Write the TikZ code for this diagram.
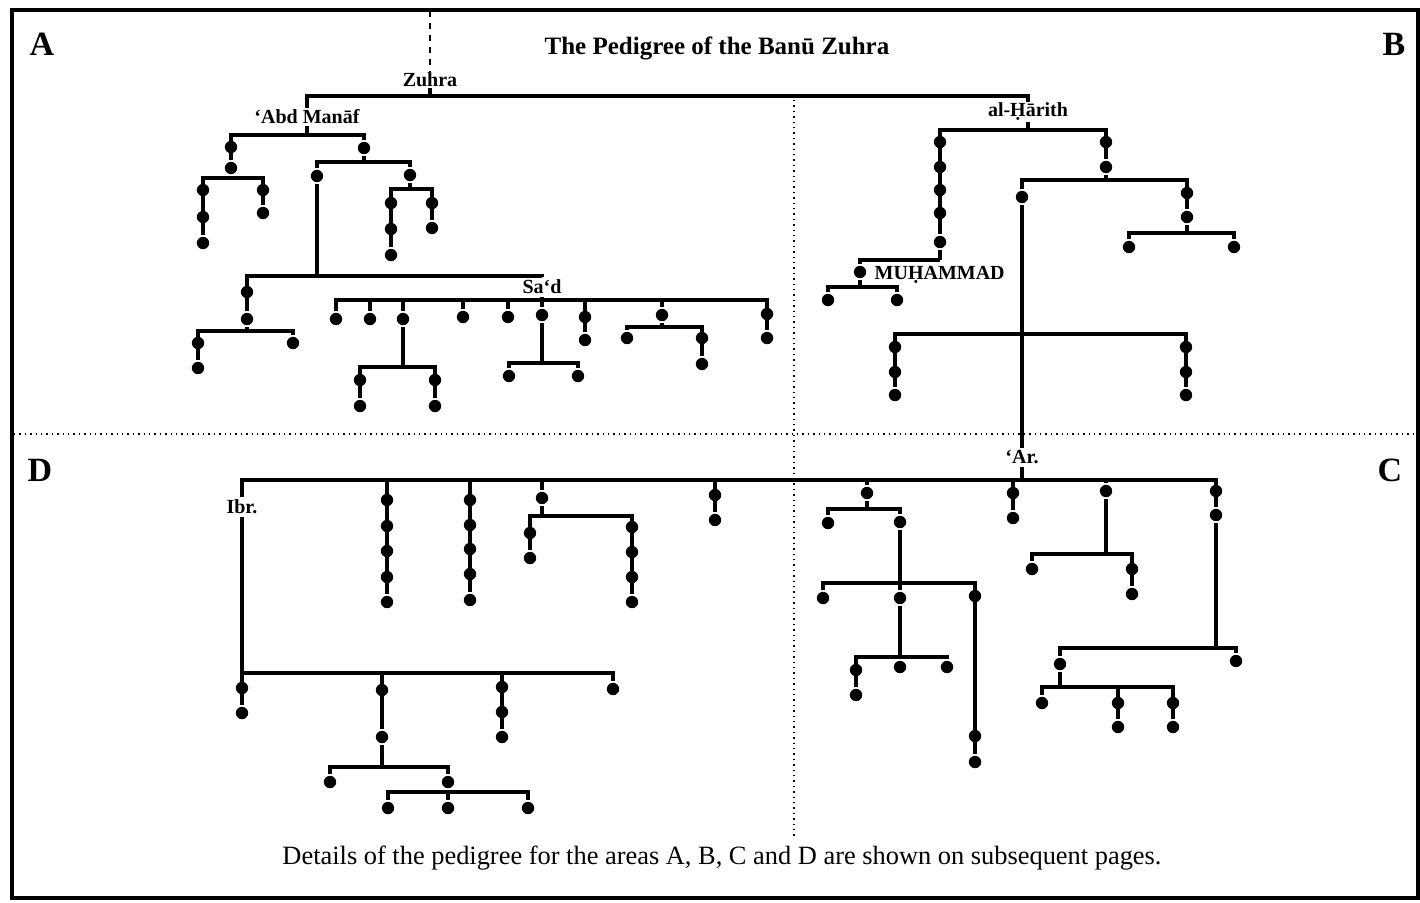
\documentclass[tikz,border=0pt]{standalone}
\usepackage{fontspec}
\setmainfont{Liberation Serif}
\usepackage{tikz}

\begin{document}
\begin{tikzpicture}[x=0.5pt, y=-0.5pt,
		kin/.style={shape=circle, fill=black, inner sep=0pt, minimum size=6.2pt},
		bond/.style={line width=1.7pt},
		who/.style={font=\bfseries\fontsize{10}{12}\selectfont, inner sep=0.5pt},
		quad/.style={font=\bfseries\fontsize{17}{20}\selectfont},
		divider/.style={dotted, line width=0.7pt}]
			\useasboundingbox (0,0) rectangle (1420,902);
			\draw[line width=1.6pt] (12,10) rectangle (1418,898);
			\draw[divider] (794,100) -- (794,836);
			\draw[divider] (14,434) -- (1416,434);
			
			\node[quad] (qa) at (42,44) {A};
			\node[quad] (qb) at (1394,44) {B};
			\node[quad] (qc) at (1390,470) {C};
			\node[quad] (qd) at (40,470) {D};
			\node[font=\bfseries\fontsize{12.5}{15}\selectfont] (title) at (717,48) {The Pedigree of the Banū Zuhra};
			\node[font=\fontsize{13.2}{15}\selectfont] (note) at (722,858) {Details of the pedigree for the areas A, B, C and D are shown on subsequent pages.};
			
			% Zuhra
			\node[who] (zuhra) at (430,80) {Zuhra};
			\coordinate (top) at (430,11);
			\coordinate (zj) at (430,96);
			\draw[dashed, line width=1.4pt] (top) -- (zuhra.north);
			\node[who] (manaf) at (307,117) {‘Abd Manāf};
			\node[who] (harith) at (1028,112) {al-\d{H}ārith};
			
			\begin{scope}[bond]
			\draw (zuhra.south) -- (zj);
			\draw (zj) -| (manaf.north);
			\draw (zj) -| (harith.north);
			
			% 'Abd Manaf
			\coordinate (mj) at (307,135);
			\draw (manaf.south) -- (mj);
			\foreach \y [count=\i] in {147,168} \node[kin] (m1\i) at (231,\y) {};
			\draw (mj) -| (m12);
			\coordinate (m1j) at (231,178);
			\draw (m12) -- (m1j);
			\foreach \y [count=\i] in {190,217,243} \node[kin] (m1a\i) at (203,\y) {};
			\foreach \y [count=\i] in {190,213} \node[kin] (m1b\i) at (263,\y) {};
			\draw (m1j) -| (m1a3);
			\draw (m1j) -| (m1b2);
			
			\node[kin] (m2) at (364,148) {};
			\draw (mj) -| (m2);
			\coordinate (m2j) at (364,162);
			\draw (m2) -- (m2j);
			\node[kin] (m2a) at (317,176) {};
			\node[kin] (m2b) at (410,175) {};
			\draw (m2j) -| (m2a);
			\draw (m2j) -| (m2b);
			\coordinate (m2bj) at (410,189);
			\draw (m2b) -- (m2bj);
			\foreach \y [count=\i] in {203,229,255} \node[kin] (m2ba\i) at (391,\y) {};
			\foreach \y [count=\i] in {203,228} \node[kin] (m2bb\i) at (432,\y) {};
			\draw (m2bj) -| (m2ba3);
			\draw (m2bj) -| (m2bb2);
			
			\coordinate (m2aj) at (317,276);
			\draw (m2a) -- (m2aj);
			\foreach \y [count=\i] in {292,319} \node[kin] (s0\i) at (247,\y) {};
			\draw (m2aj) -| (s02);
			\coordinate (s0j) at (247,331);
			\draw (s02) -- (s0j);
			\foreach \y [count=\i] in {343,368} \node[kin] (s0a\i) at (198,\y) {};
			\node[kin] (s0b) at (293,343) {};
			\draw (s0j) -| (s0a2);
			\draw (s0j) -| (s0b);
			
			% Sa'd
			\node[who] (sad) at (542,287) {Sa‘d};
			\draw (m2aj) -| (sad.north);
			\coordinate (sj) at (542,300);
			\draw (sad.south) -- (sj);
			\foreach \x/\y [count=\i] in {336/319, 370/319, 463/317, 508/317} {
				\node[kin] (sl\i) at (\x,\y) {};
				\draw (sj) -| (sl\i);
			}
			\node[kin] (s3) at (403,319) {};
			\draw (sj) -| (s3);
			\coordinate (s3j) at (403,367);
			\draw (s3) -- (s3j);
			\foreach \y [count=\i] in {380,406} \node[kin] (s3a\i) at (360,\y) {};
			\foreach \y [count=\i] in {380,406} \node[kin] (s3b\i) at (435,\y) {};
			\draw (s3j) -| (s3a2);
			\draw (s3j) -| (s3b2);
			\node[kin] (s6) at (542,315) {};
			\draw (sj) -- (s6);
			\coordinate (s6j) at (542,363);
			\draw (s6) -- (s6j);
			\node[kin] (s6a) at (509,376) {};
			\node[kin] (s6b) at (578,376) {};
			\draw (s6j) -| (s6a);
			\draw (s6j) -| (s6b);
			\foreach \y [count=\i] in {317,340} \node[kin] (s7\i) at (585,\y) {};
			\draw (sj) -| (s72);
			\node[kin] (s8) at (662,315) {};
			\draw (sj) -| (s8);
			\coordinate (s8j) at (662,327);
			\draw (s8) -- (s8j);
			\node[kin] (s8a) at (627,338) {};
			\foreach \y [count=\i] in {338,364} \node[kin] (s8b\i) at (702,\y) {};
			\draw (s8j) -| (s8a);
			\draw (s8j) -| (s8b2);
			\foreach \y [count=\i] in {314,338} \node[kin] (s9\i) at (767,\y) {};
			\draw (sj) -| (s92);
			
			% al-Harith
			\coordinate (hj) at (1028,130);
			\draw (harith.south) -- (hj);
			\foreach \y [count=\i] in {142,167,190,213,242} \node[kin] (h1\i) at (940,\y) {};
			\draw (hj) -| (h15);
			\coordinate (h1j) at (940,260);
			\draw (h15) -- (h1j);
			\node[kin] (muh) at (860,272) {};
			\node[who, anchor=west] (muhname) at (872,275) {MU\d{H}AMMAD};
			\draw (h1j) -| (muh);
			\coordinate (muhj) at (860,287);
			\draw (muh) -- (muhj);
			\node[kin] (muh1) at (828,300) {};
			\node[kin] (muh2) at (897,300) {};
			\draw (muhj) -| (muh1);
			\draw (muhj) -| (muh2);
			
			\foreach \y [count=\i] in {142,167} \node[kin] (h2\i) at (1106,\y) {};
			\draw (hj) -| (h22);
			\coordinate (h2j) at (1106,180);
			\draw (h22) -- (h2j);
			\node[kin] (h2a) at (1022,197) {};
			\draw (h2j) -| (h2a);
			\foreach \y [count=\i] in {193,217} \node[kin] (h2b\i) at (1187,\y) {};
			\draw (h2j) -| (h2b2);
			\coordinate (h2bj) at (1187,233);
			\draw (h2b2) -- (h2bj);
			\node[kin] (h2ba) at (1129,247) {};
			\node[kin] (h2bb) at (1234,247) {};
			\draw (h2bj) -| (h2ba);
			\draw (h2bj) -| (h2bb);
			\coordinate (h2aj) at (1022,334);
			\foreach \y [count=\i] in {347,372,395} \node[kin] (h2aa\i) at (895,\y) {};
			\foreach \y [count=\i] in {347,372,395} \node[kin] (h2ab\i) at (1186,\y) {};
			\draw (h2aj) -| (h2aa3);
			\draw (h2aj) -| (h2ab3);
			
			% 'Ar.
			\node[who] (ar) at (1022,457) {‘Ar.};
			\draw (h2a) -- (ar.north);
			\coordinate (arj) at (1022,480);
			\draw (ar.south) -- (arj);
			\node[who] (ibr) at (242,507) {Ibr.};
			\draw (arj) -| (ibr.north);
			\foreach \y [count=\i] in {500,526,551,577,602} \node[kin] (d1\i) at (387,\y) {};
			\draw (arj) -| (d15);
			\foreach \y [count=\i] in {500,525,549,574,600} \node[kin] (d2\i) at (470,\y) {};
			\draw (arj) -| (d25);
			\node[kin] (d3) at (542,498) {};
			\draw (arj) -| (d3);
			\coordinate (d3j) at (542,516);
			\draw (d3) -- (d3j);
			\foreach \y [count=\i] in {533,558} \node[kin] (d3a\i) at (530,\y) {};
			\foreach \y [count=\i] in {527,552,577,602} \node[kin] (d3b\i) at (632,\y) {};
			\draw (d3j) -| (d3a2);
			\draw (d3j) -| (d3b4);
			\foreach \y [count=\i] in {495,520} \node[kin] (d4\i) at (715,\y) {};
			\draw (arj) -| (d42);
			
			\node[kin] (c1) at (867,493) {};
			\draw (arj) -| (c1);
			\coordinate (c1j) at (867,509);
			\draw (c1) -- (c1j);
			\node[kin] (c1a) at (828,523) {};
			\node[kin] (c1b) at (900,522) {};
			\draw (c1j) -| (c1a);
			\draw (c1j) -| (c1b);
			\coordinate (c1bj) at (900,583);
			\draw (c1b) -- (c1bj);
			\node[kin] (c1ba) at (823,598) {};
			\node[kin] (c1bb) at (900,598) {};
			\foreach \y [count=\i] in {596,736,762} \node[kin] (c1bc\i) at (975,\y) {};
			\draw (c1bj) -| (c1ba);
			\draw (c1bj) -- (c1bb);
			\draw (c1bj) -| (c1bc3);
			\coordinate (c1bbj) at (900,657);
			\draw (c1bb) -- (c1bbj);
			\foreach \y [count=\i] in {670,695} \node[kin] (c1bba\i) at (856,\y) {};
			\node[kin] (c1bbb) at (900,667) {};
			\node[kin] (c1bbc) at (947,667) {};
			\draw (c1bbj) -| (c1bba2);
			\draw (c1bbj) -- (c1bbb);
			\draw (c1bbj) -| (c1bbc);
			
			\foreach \y [count=\i] in {493,518} \node[kin] (c2\i) at (1013,\y) {};
			\draw (arj) -| (c22);
			\node[kin] (c3) at (1106,491) {};
			\draw (arj) -| (c3);
			\coordinate (c3j) at (1106,554);
			\draw (c3) -- (c3j);
			\node[kin] (c3a) at (1032,569) {};
			\foreach \y [count=\i] in {569,594} \node[kin] (c3b\i) at (1132,\y) {};
			\draw (c3j) -| (c3a);
			\draw (c3j) -| (c3b2);
			\foreach \y [count=\i] in {491,515} \node[kin] (c4\i) at (1216,\y) {};
			\draw (arj) -| (c42);
			\coordinate (c4j) at (1216,648);
			\draw (c42) -- (c4j);
			\node[kin] (c4a) at (1060,664) {};
			\node[kin] (c4b) at (1236,661) {};
			\draw (c4j) -| (c4a);
			\draw (c4j) -| (c4b);
			\coordinate (c4aj) at (1060,687);
			\draw (c4a) -- (c4aj);
			\node[kin] (c4aa) at (1042,703) {};
			\foreach \y [count=\i] in {703,727} \node[kin] (c4ab\i) at (1118,\y) {};
			\foreach \y [count=\i] in {703,727} \node[kin] (c4ac\i) at (1173,\y) {};
			\draw (c4aj) -| (c4aa);
			\draw (c4aj) -| (c4ab2);
			\draw (c4aj) -| (c4ac2);
			
			% Ibr.
			\coordinate (ij) at (242,673);
			\draw (ibr.south) -- (ij);
			\foreach \y [count=\i] in {688,713} \node[kin] (i1\i) at (242,\y) {};
			\draw (ij) -- (i12);
			\foreach \y [count=\i] in {690,737} \node[kin] (i2\i) at (382,\y) {};
			\draw (ij) -| (i22);
			\coordinate (i2j) at (382,767);
			\draw (i22) -- (i2j);
			\node[kin] (i2a) at (330,782) {};
			\node[kin] (i2b) at (448,782) {};
			\draw (i2j) -| (i2a);
			\draw (i2j) -| (i2b);
			\coordinate (i2bj) at (448,792);
			\draw (i2b) -- (i2bj);
			\node[kin] (i2ba) at (388,808) {};
			\node[kin] (i2bb) at (448,808) {};
			\node[kin] (i2bc) at (528,808) {};
			\draw (i2bj) -| (i2ba);
			\draw (i2bj) -- (i2bb);
			\draw (i2bj) -| (i2bc);
			\foreach \y [count=\i] in {687,712,737} \node[kin] (i3\i) at (502,\y) {};
			\draw (ij) -| (i33);
			\node[kin] (i4) at (613,689) {};
			\draw (ij) -| (i4);
			\end{scope}
		\end{tikzpicture}
\end{document}
